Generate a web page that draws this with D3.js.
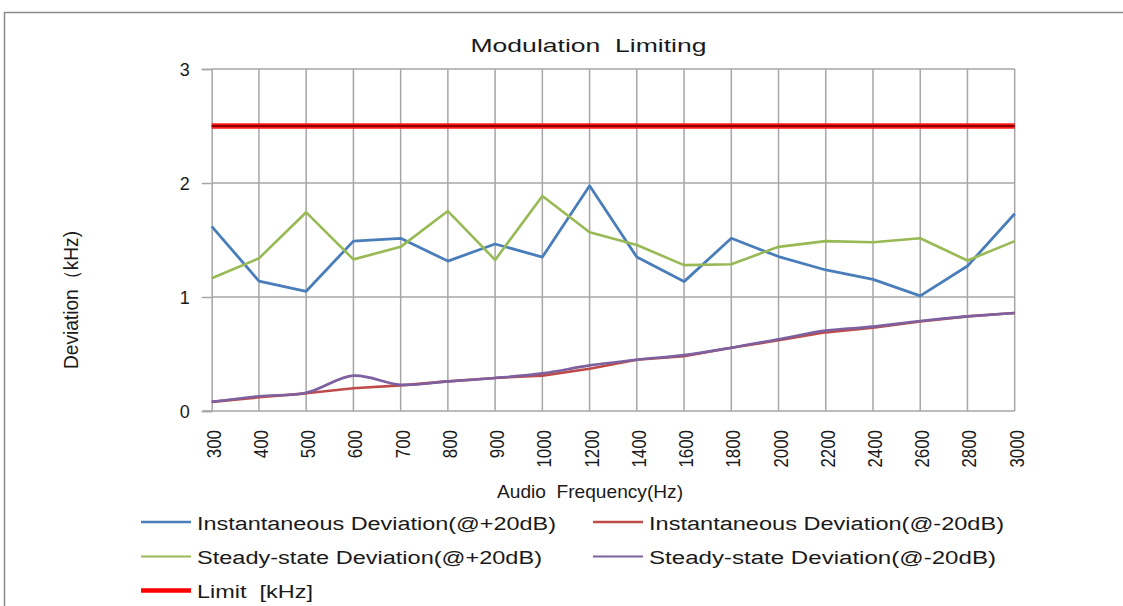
<!DOCTYPE html>
<html>
<head>
<meta charset="utf-8">
<script src="https://cdn.jsdelivr.net/npm/d3@7"></script>
<style>
  body { margin: 0; background: #fff; }
  svg { display: block; }
  text { font-family: "Liberation Sans", Arial, sans-serif; fill: #1a1a1a; white-space: pre; }
</style>
</head>
<body>
<svg id="chart" width="1123" height="606"></svg>
<script>
// ---- data ----
const categories = [300, 400, 500, 600, 700, 800, 900, 1000, 1200, 1400, 1600, 1800, 2000, 2200, 2400, 2600, 2800, 3000];
const instPlus  = [1.62, 1.14, 1.05, 1.49, 1.515, 1.315, 1.465, 1.35, 1.975, 1.35, 1.135, 1.515, 1.355, 1.237, 1.155, 1.01, 1.272, 1.73];
const instMinus = [0.08, 0.12, 0.155, 0.20, 0.225, 0.26, 0.29, 0.31, 0.37, 0.45, 0.48, 0.555, 0.62, 0.69, 0.73, 0.785, 0.83, 0.86];
const steadyPlus  = [1.164, 1.339, 1.743, 1.33, 1.44, 1.754, 1.325, 1.886, 1.568, 1.456, 1.28, 1.287, 1.44, 1.49, 1.48, 1.515, 1.32, 1.49];
const steadyMinus = [0.08, 0.13, 0.16, 0.31, 0.23, 0.26, 0.29, 0.33, 0.40, 0.45, 0.49, 0.555, 0.63, 0.705, 0.74, 0.79, 0.83, 0.86];
const limitValue = 2.5;
const yTicks = [0, 1, 2, 3];
const titleText = "Modulation  Limiting";
const xTitle = "Audio  Frequency(Hz)";
const yTitle = "Deviation（kHz)";
const legendLabels = [
  "Instantaneous Deviation(@+20dB)",
  "Instantaneous Deviation(@-20dB)",
  "Steady-state Deviation(@+20dB)",
  "Steady-state Deviation(@-20dB)",
  "Limit  [kHz]"
];

// ---- drawing ----
const svg = d3.select("#chart");
const x = d3.scalePoint().domain(categories).range([211.7, 1014.7]);
const y = d3.scaleLinear().domain([0, 3]).range([411, 69]);
const grid = "#a6a6a6";

// outer frame
svg.append("rect").attr("x", 4.5).attr("y", 12.5).attr("width", 1300).attr("height", 800)
  .attr("fill", "none").attr("stroke", "#8a8a8a").attr("stroke-width", 1.5);

// title
svg.append("text").attr("x", 470.5).attr("y", 52).attr("font-size", 19)
  .attr("textLength", 236).attr("lengthAdjust", "spacingAndGlyphs")
  .text(titleText);

// horizontal gridlines + y axis ticks
const yAxis = d3.axisLeft(y).tickValues(yTicks).tickSize(10).tickFormat(d3.format("d"));
const gy = svg.append("g").attr("transform", `translate(${x.range()[0]},0)`).call(yAxis);
gy.select(".domain").attr("stroke", grid).attr("stroke-width", 1.5);
gy.selectAll(".tick line").attr("stroke", grid).attr("stroke-width", 1.5);
gy.selectAll(".tick text").attr("font-size", 18).attr("x", -22).attr("dy", "0.35em")
  .attr("fill", "#1a1a1a").attr("font-family", "Liberation Sans, Arial, sans-serif");

svg.append("g").selectAll("line").data(yTicks.filter(d => d > 0)).join("line")
  .attr("x1", x.range()[0]).attr("x2", x.range()[1])
  .attr("y1", d => y(d)).attr("y2", d => y(d))
  .attr("stroke", grid).attr("stroke-width", 1.5);

// vertical gridlines
svg.append("g").selectAll("line").data(categories.slice(1)).join("line")
  .attr("x1", d => x(d)).attr("x2", d => x(d))
  .attr("y1", y(3)).attr("y2", y(0))
  .attr("stroke", grid).attr("stroke-width", 1.5);

// x axis line
svg.append("line").attr("x1", 203).attr("x2", x.range()[1]).attr("y1", y(0)).attr("y2", y(0))
  .attr("stroke", grid).attr("stroke-width", 1.5);

// x tick labels (rotated)
svg.append("g").selectAll("text").data(categories).join("text")
  .attr("transform", d => `translate(${x(d) + 9},430) rotate(-90)`)
  .attr("text-anchor", "end")
  .attr("font-size", 21)
  .attr("textLength", d => String(d).length * 9.4)
  .attr("lengthAdjust", "spacingAndGlyphs")
  .text(d => d);

// axis titles
svg.append("text").attr("x", 497).attr("y", 498).attr("font-size", 19)
  .attr("textLength", 186).attr("lengthAdjust", "spacingAndGlyphs").text(xTitle);

svg.append("text").attr("transform", "translate(78,369) rotate(-90)").attr("font-size", 20)
  .attr("textLength", 138).attr("lengthAdjust", "spacingAndGlyphs").text(yTitle);

// series
const seriesDefs = [
  { values: instPlus, color: "#4a7ebb", width: 2.8, curve: d3.curveLinear },
  { values: steadyPlus, color: "#98b954", width: 2.6, curve: d3.curveLinear },
  { values: instMinus, color: "#be4b48", width: 2.6, curve: d3.curveLinear },
  { values: steadyMinus, color: "#7d60a0", width: 2.6, curve: d3.curveCatmullRom.alpha(0.5) }
];
seriesDefs.forEach(s => {
  const line = d3.line().x((d, i) => x(categories[i])).y(d => y(d)).curve(s.curve);
  svg.append("path").datum(s.values).attr("d", line)
    .attr("fill", "none").attr("stroke", s.color).attr("stroke-width", s.width)
    .attr("stroke-linejoin", "round");
});

// limit line
const limitData = categories.map(() => limitValue);
const limitLine = d3.line().x((d, i) => x(categories[i])).y(d => y(d));
svg.append("path").datum(limitData).attr("d", limitLine)
  .attr("fill", "none").attr("stroke", "#ff1a1a").attr("stroke-width", 5.5);
svg.append("path").datum(limitData).attr("d", limitLine)
  .attr("fill", "none").attr("stroke", "#8a0000").attr("stroke-width", 2);

// legend
const legendItems = [
  { label: legendLabels[0], color: "#4a7ebb", width: 2.5, lx: 141, ly: 522, len: 359 },
  { label: legendLabels[1], color: "#be4b48", width: 2.5, lx: 593, ly: 522, len: 355 },
  { label: legendLabels[2], color: "#98b954", width: 2, lx: 141, ly: 556.5, len: 345 },
  { label: legendLabels[3], color: "#7d60a0", width: 2, lx: 593, ly: 556.5, len: 347 },
  { label: legendLabels[4], color: "#ff0000", width: 4.5, lx: 141, ly: 590.5, len: 116 }
];
const lg = svg.append("g").selectAll("g").data(legendItems).join("g");
lg.append("line").attr("x1", d => d.lx).attr("x2", d => d.lx + 50)
  .attr("y1", d => d.ly).attr("y2", d => d.ly)
  .attr("stroke", d => d.color).attr("stroke-width", d => d.width);
lg.append("text").attr("x", d => d.lx + 56).attr("y", d => d.ly + 7.5)
  .attr("font-size", 18).attr("textLength", d => d.len).attr("lengthAdjust", "spacingAndGlyphs")
  .text(d => d.label);
</script>
</body>
</html>
